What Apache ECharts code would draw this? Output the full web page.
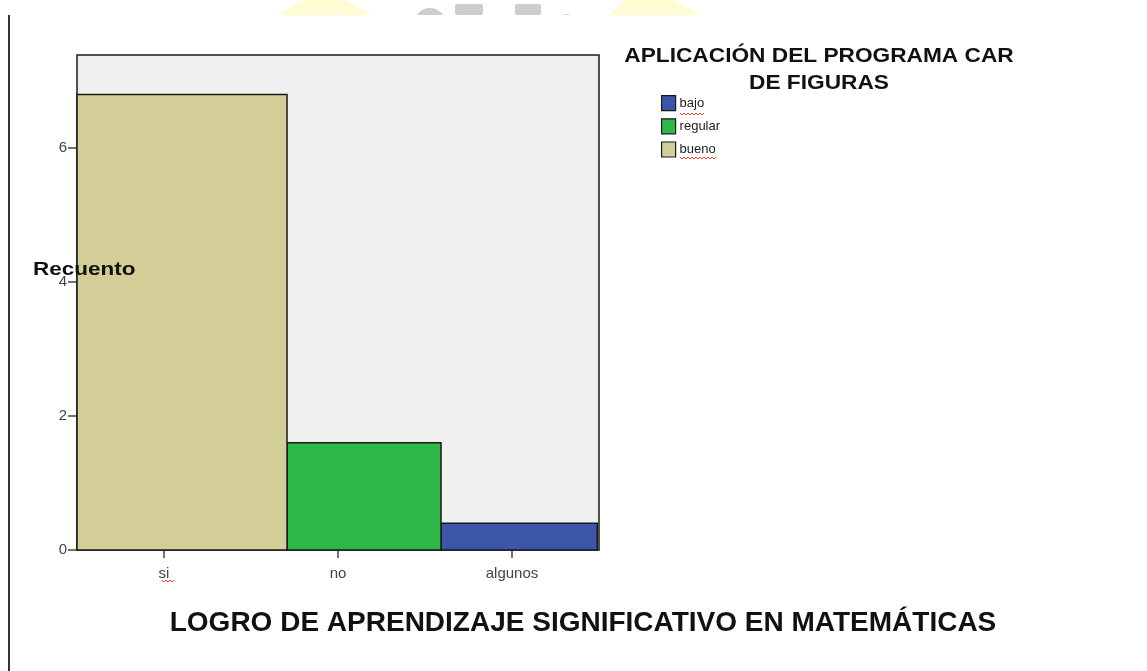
<!DOCTYPE html>
<html>
<head>
<meta charset="utf-8">
<script src="https://cdn.jsdelivr.net/npm/echarts@6/dist/echarts.min.js"></script>
<style>
html,body{margin:0;padding:0;background:#fff;}
#main{width:1147px;height:671px;}
</style>
</head>
<body>
<div id="main"></div>
<script>
// ---- data ----
const categories = ['si', 'no', 'algunos'];
const legendNames = ['bajo', 'regular', 'bueno'];
const bajo = [0, 0, 0.4];
const regular = [0, 1.6, 0];
const bueno = [6.8, 0, 0];
const yTicks = [0, 2, 4, 6];
const xTitle = 'LOGRO DE APRENDIZAJE SIGNIFICATIVO EN MATEMÁTICAS';
const yTitle = 'Recuento';
const legendTitle = ['APLICACIÓN DEL PROGRAMA CAR', 'DE FIGURAS'];

// ---- layout (band units from axis start, per category) ----
const BAR_SPANS = [[0, 1.207], [1.207, 2.092], [2.092, 2.99]];
const COLORS = { bajo: '#3c55a8', regular: '#2fb84a', bueno: '#d3cd98' };
const FONT = '"Liberation Sans", Arial, sans-serif';

const chart = echarts.init(document.getElementById('main'), null, { renderer: 'canvas' });

function renderItem(params, api) {
  const idx = api.value(0);
  const val = api.value(1);
  if (!val) return null;
  const band = api.size([1, 0])[0];
  const x0 = api.coord([0, 0])[0] - band / 2;
  const yTop = api.coord([idx, val])[1];
  const yBase = api.coord([idx, 0])[1];
  const span = BAR_SPANS[idx];
  return {
    type: 'rect',
    shape: { x: x0 + span[0] * band, y: yTop, width: (span[1] - span[0]) * band, height: yBase - yTop },
    style: { fill: api.visual('color'), stroke: '#1a1a1a', lineWidth: 1.5 }
  };
}

// red spell-check squiggle decoration
function squiggle(x1, x2, y) {
  const pts = [];
  let up = true;
  for (let x = x1; x <= x2; x += 2) { pts.push([x, up ? y : y + 2]); up = !up; }
  return { type: 'polyline', shape: { points: pts }, style: { stroke: '#e23a3a', lineWidth: 1, fill: null }, z: 11 };
}

const seriesData = { bajo: bajo, regular: regular, bueno: bueno };

const option = {
  animation: false,
  backgroundColor: '#ffffff',
  grid: {
    left: 77, top: 55, right: 548, bottom: 121,
    show: true, backgroundColor: '#efefef', borderColor: '#1a1a1a', borderWidth: 1.5
  },
  xAxis: {
    type: 'category',
    data: categories,
    boundaryGap: true,
    axisLine: { show: false },
    axisTick: { show: true, alignWithLabel: true, length: 8, lineStyle: { color: '#444', width: 1.5 } },
    axisLabel: { fontFamily: FONT, fontSize: 15, color: '#444', margin: 16 },
    splitLine: { show: false }
  },
  yAxis: {
    type: 'value',
    min: 0, max: 7.39, interval: 2,
    axisLine: { show: false },
    axisTick: { show: true, length: 9, lineStyle: { color: '#444', width: 1.5 } },
    axisLabel: { fontFamily: FONT, fontSize: 15, color: '#444', margin: 10, showMaxLabel: false },
    splitLine: { show: false }
  },
  legend: {
    orient: 'vertical',
    left: 661, top: 95, padding: 0,
    data: legendNames,
    icon: 'rect',
    itemWidth: 14, itemHeight: 15, itemGap: 7,
    itemStyle: { borderColor: '#1a1a1a', borderWidth: 1.2 },
    textStyle: { fontFamily: FONT, fontSize: 13, color: '#222', padding: [0, 0, 0, -1] },
    selectedMode: false
  },
  series: legendNames.map(name => ({
    name: name,
    type: 'custom',
    renderItem: renderItem,
    itemStyle: { color: COLORS[name] },
    encode: { x: 0, y: 1 },
    data: seriesData[name].map((v, i) => [i, v]),
    z: 3
  })),
  graphic: [
    // page margin line
    { type: 'line', shape: { x1: 9, y1: 15, x2: 9, y2: 671 }, style: { stroke: '#333', lineWidth: 2 } },
    // faint watermark fragments at top
    { type: 'polygon', shape: { points: [[275, 15], [305, 0], [345, 0], [372, 15]] }, style: { fill: '#fffbd2' } },
    { type: 'polygon', shape: { points: [[702, 15], [672, 0], [625, 0], [610, 15]] }, style: { fill: '#fffbd2' } },
    { type: 'circle', shape: { cx: 430, cy: 24, r: 16 }, style: { fill: '#cdcdcd' }, z: -2 },
    { type: 'circle', shape: { cx: 566, cy: 24, r: 10 }, style: { fill: '#cdcdcd' }, z: -2 },
    { type: 'rect', shape: { x: 0, y: 15, width: 1147, height: 30 }, style: { fill: '#fff' }, z: -1 },
    { type: 'rect', shape: { x: 455, y: 4, width: 28, height: 11, r: 2 }, style: { fill: '#cdcdcd' } },
    { type: 'rect', shape: { x: 515, y: 4, width: 26, height: 11, r: 2 }, style: { fill: '#cdcdcd' } },
    // y title
    { type: 'text', x: 33, y: 270, z: 10, scaleX: 1.25, originX: 0,
      style: { text: yTitle, font: 'bold 18px ' + FONT, fill: '#111', textAlign: 'left', textVerticalAlign: 'middle' } },
    // legend title
    { type: 'text', x: 819, y: 56, z: 10, scaleX: 1.08,
      style: { text: legendTitle[0], font: 'bold 21px ' + FONT, fill: '#111', textAlign: 'center', textVerticalAlign: 'middle' } },
    { type: 'text', x: 819, y: 83, z: 10, scaleX: 1.08,
      style: { text: legendTitle[1], font: 'bold 21px ' + FONT, fill: '#111', textAlign: 'center', textVerticalAlign: 'middle' } },
    // x title
    { type: 'text', x: 583, y: 623, z: 10, scaleX: 1.0,
      style: { text: xTitle, font: 'bold 28px ' + FONT, fill: '#111', textAlign: 'center', textVerticalAlign: 'middle' } },
    squiggle(162, 175, 580),
    squiggle(680, 704, 113),
    squiggle(680, 716, 157)
  ]
};

chart.setOption(option);
</script>
</body>
</html>
